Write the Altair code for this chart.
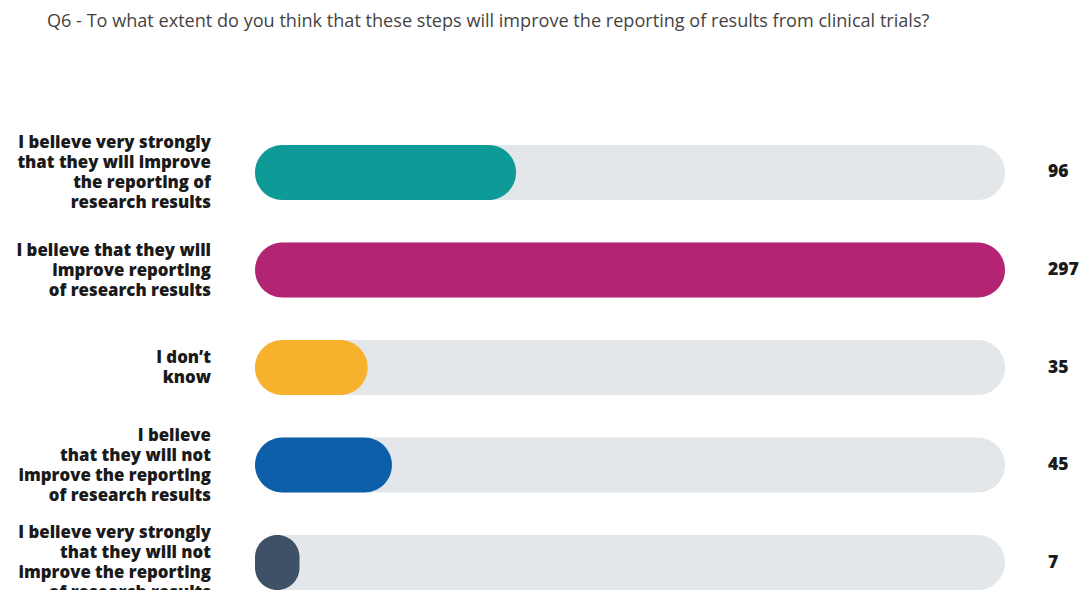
import altair as alt
import pandas as pd

categories = [
    "I believe very strongly\nthat they will improve\nthe reporting of\nresearch results",
    "I believe that they will\nimprove reporting\nof research results",
    "I don\u2019t\nknow",
    "I believe\nthat they will not\nimprove the reporting\nof research results",
    "I believe very strongly\nthat they will not\nimprove the reporting\nof research results",
]
values = [96, 297, 35, 45, 7]
colors = ["#0E9A97", "#B32572", "#F8B12C", "#0C5FA8", "#3E5166"]
title_text = "Q6 - To what extent do you think that these steps will improve the reporting of results from clinical trials?"

MAX = 297
START = -11.3  # rounded-cap offset so small bars still show a cap
LINE_H = 20
HALF_BAND = 28

df = pd.DataFrame({"cat": categories, "value": values, "color": colors,
                   "label": [str(v) for v in values]})
df["start"] = START
df["full"] = MAX

rows = []
for c in categories:
    lines = c.split("\n")
    n = len(lines)
    for j, ln in enumerate(lines):
        rows.append({"cat": c, "line": ln,
                     "off": HALF_BAND + (j - (n - 1) / 2) * LINE_H})
lines_df = pd.DataFrame(rows)
title_df = pd.DataFrame({"t": [title_text]})

W, H = 750, 445

yenc = alt.Y("cat:N", sort=categories, axis=None,
             scale=alt.Scale(paddingInner=0.436, paddingOuter=0))
xscale = alt.Scale(domain=[START, MAX], range=[0, W], nice=False, zero=False)

base = alt.Chart(df)

bg = base.mark_bar(cornerRadius=27.5, color="#E3E7EA").encode(
    y=yenc,
    x=alt.X("start:Q", scale=xscale, axis=None),
    x2="full:Q",
)

fg = base.mark_bar(cornerRadius=27.5).encode(
    y=yenc,
    x=alt.X("start:Q", scale=xscale, axis=None),
    x2="value:Q",
    color=alt.Color("color:N", scale=None, legend=None),
)

labels = alt.Chart(lines_df).mark_text(
    align="right", baseline="middle",
    font="Open Sans", fontSize=16.8, fontWeight=800, color="#1A1A1A",
).encode(y=yenc, yOffset=alt.YOffset("off:Q", scale=None),
         x=alt.value(-44), text="line:N")

vals = base.mark_text(
    align="left", baseline="middle",
    font="Open Sans", fontSize=17.5, fontWeight=800, color="#1A1A1A",
).encode(y=yenc, x=alt.value(793), text="label:N")

title = alt.Chart(title_df).mark_text(
    align="left", baseline="middle",
    font="Open Sans", fontSize=18.1, fontWeight="normal", color="#444444",
).encode(x=alt.value(-208), y=alt.value(-123), text="t:N")

chart = alt.layer(bg, fg, labels, vals, title).properties(
    width=W, height=H,
    background="white",
    padding={"left": 247, "top": 137, "right": 76, "bottom": 0},
    autosize=alt.AutoSizeParams(type="none"),
).configure_view(stroke=None).configure_axis(
    grid=False, domain=False, ticks=False
)

chart.save("out.html", embed_options={"renderer": "svg", "actions": False})
